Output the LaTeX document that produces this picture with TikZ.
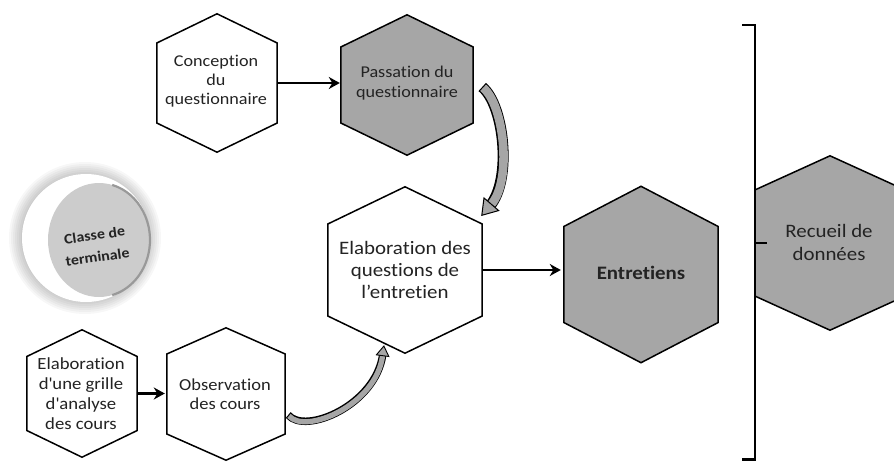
\documentclass[tikz,border=0pt]{standalone}
\usepackage{fontspec}
\setmainfont[FakeStretch=1.1,Ligatures={NoCommon}]{Carlito}
\usetikzlibrary{calc,arrows.meta}

\definecolor{hexgray}{RGB}{166,166,166}
\definecolor{inkgray}{RGB}{35,35,35}
\definecolor{discgray}{RGB}{204,204,204}

\newcommand\fs[2]{\fontsize{#1}{#2}\selectfont}
% hexagon with pointed top and bottom, drawn round a frame node of the same size
\newcommand\hexoutline[3][]{%
  \draw[hexline,#1] (#2.north) -- ($(#2.east)+(0,-#3)$) -- ($(#2.east)+(0,#3)$)
    -- (#2.south) -- ($(#2.west)+(0,#3)$) -- ($(#2.west)+(0,-#3)$) -- cycle;}

\tikzset{
  hexframe/.style 2 args={rectangle, inner sep=0pt, minimum width=#1,
    minimum height=#2},
  hextext/.style={align=center, text=inkgray, inner sep=0pt},
  hexline/.style={draw=black, line width=1.5pt, line join=miter, fill=white},
  darkhex/.style={fill=hexgray},
  flowarrow/.style={draw=black, line width=2.6pt,
    -{Stealth[length=11pt,width=12pt,inset=3.5pt]}},
  bracketline/.style={draw=black, line width=2.6pt},
}

\begin{document}
\begin{tikzpicture}[x=1pt,y=-1pt]
\useasboundingbox (0,0) rectangle (894,461);
\fill[white] (0,0) rectangle (894,461);

% ---- step frames ----
\node[hexframe={120}{138}] (conc)   at (217,83)    {};
\node[hexframe={132}{140}] (pass)   at (407,85)    {};
\node[hexframe={154}{166}] (elab)   at (405,270)   {};
\node[hexframe={154}{176}] (ent)    at (641,274.5) {};
\node[hexframe={150}{174}] (rec)    at (830,243)   {};
\node[hexframe={110}{127}] (grille) at (82,393.5)  {};
\node[hexframe={118}{132}] (obs)    at (226,394)   {};

% ---- hexagon bodies ----
\hexoutline{conc}{40}
\hexoutline[darkhex]{pass}{38}
\hexoutline{elab}{46}
\hexoutline[darkhex]{ent}{48}
\hexoutline[darkhex]{rec}{53}
\hexoutline{grille}{37}
\hexoutline{obs}{40}

% ---- step texts ----
\node[hextext, font=\fs{16.5}{19}] (conc-t) at ($(conc)+(-1,-2)$)
  {Conception\\du\\questionnaire};
\node[hextext, font=\fs{16.5}{20}] (pass-t) at ($(pass)+(0,-2)$)
  {Passation du\\questionnaire};
\node[hextext, font=\fs{19}{22}] (elab-t) at (elab)
  {Elaboration des\\questions de\\l’entretien};
\node[hextext, font=\bfseries\fs{19}{22}] (ent-t) at ($(ent)+(0,-2)$)
  {Entretiens};
\node[hextext, font=\fs{19}{23}] (rec-t) at ($(rec)+(-1,-1)$)
  {Recueil de\\données};
\node[hextext, font=\fs{17}{20}] (grille-t) at ($(grille)+(-1,0)$)
  {Elaboration\\d\textquotesingle une grille\\d\textquotesingle analyse\\des cours};
\node[hextext, font=\fs{16.8}{19.5}] (obs-t) at ($(obs)+(-1,0)$)
  {Observation\\des cours};

% ---- straight connectors ----
\draw[flowarrow] (conc.east) -- ($(pass.west |- conc.east)+(-1,0)$);
\draw[flowarrow] (elab.east) -- ($(ent.west |- elab.east)+(-3,0)$);
\draw[flowarrow] (grille.east) -- ($(obs.west |- grille.east)+(-2,0)$);

% ---- curved block arrows ----
\coordinate (a1) at ($(pass.east)+(9,2)$);
\coordinate (a2) at ($(elab.east)+(-1,-54)$);
\draw[line width=11pt, black, shorten >=13pt]
  (a1) .. controls +(22,18) and +(31,-36) .. (a2);
\draw[line width=8.6pt, hexgray, shorten <=1.2pt,
  -{Triangle[length=16pt,width=21pt,fill=hexgray,color=black,line width=1pt]}]
  (a1) .. controls +(22,18) and +(31,-36) .. (a2);

\coordinate (b1) at ($(obs.east)+(3,21)$);
\coordinate (b2) at ($(elab.south)+(-21,-8)$);
\draw[line width=7.5pt, black, shorten >=9pt]
  (b1) .. controls +(17,20) and +(-8,60) .. (b2);
\draw[line width=5.3pt, hexgray, shorten <=1.2pt,
  -{Triangle[length=11pt,width=14pt,fill=hexgray,color=black,line width=0.9pt]}]
  (b1) .. controls +(17,20) and +(-8,60) .. (b2);

% ---- round badge with a soft halo ----
\foreach \r in {76,74,...,64}
  \fill[black, fill opacity=0.03] (85,238) circle[radius=\r];
\node[circle, minimum size=128pt, inner sep=0pt, fill=white] (btn) at (86,238) {};
\fill[discgray] (99,240) ellipse [x radius=51, y radius=57];
\draw[line width=2.2pt, black!40] (99,240) ++(-75:51 and 57)
  arc[start angle=-75, end angle=75, x radius=51, y radius=57];
\node[rotate=8, align=center, font=\bfseries\fs{14.5}{22}, text=inkgray]
  (classe) at (96,246) {Classe de\\terminale};

% ---- bracket grouping the data collection ----
\coordinate (brtop) at (742,25);
\coordinate (brbot) at (742,459.5);
\draw[bracketline] (brtop) -- (755,25) -- (755,459.5) -- (brbot);
\draw[bracketline] (rec.west) -- ++(12,0);
\end{tikzpicture}
\end{document}
